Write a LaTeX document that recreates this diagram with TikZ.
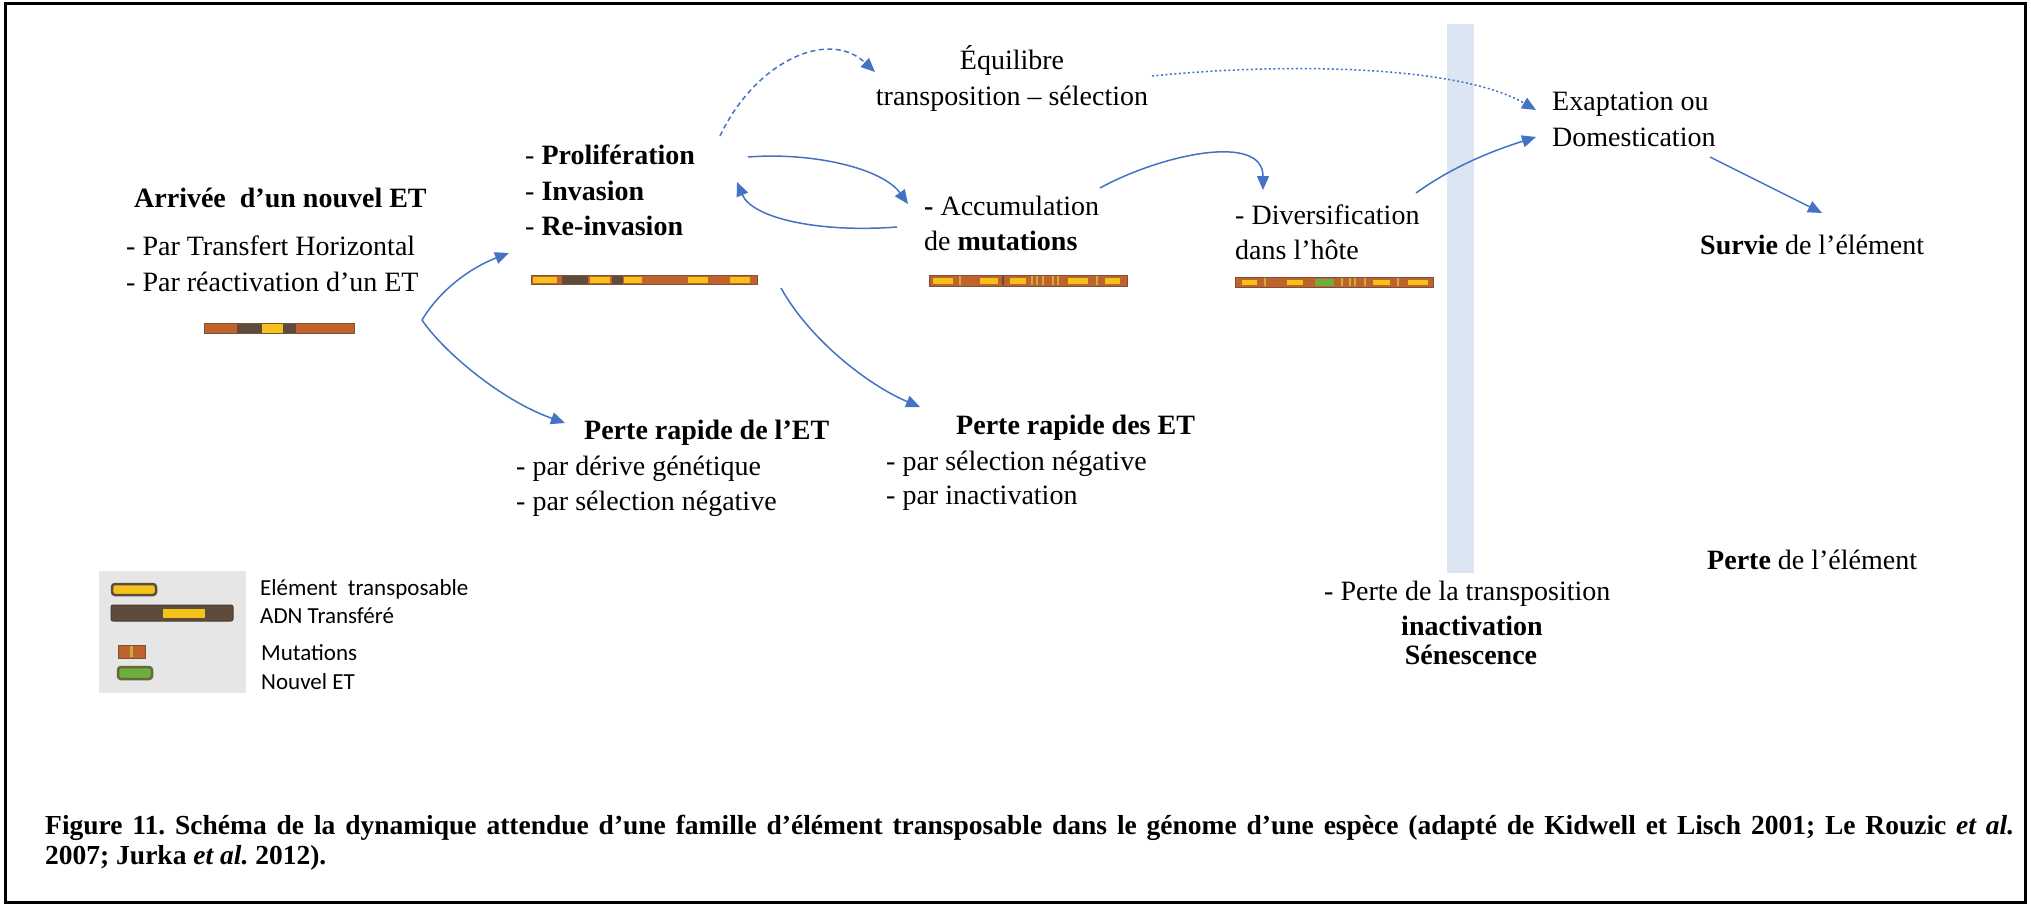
\documentclass[tikz,border=0pt]{standalone}
\usepackage{fontspec}
\setmainfont{Liberation Serif}
\newfontfamily\legendfont{Carlito}
\usetikzlibrary{arrows.meta}

\definecolor{arrowblue}{HTML}{4472C4}
\definecolor{tebrown}{HTML}{C0622B}
\definecolor{tedark}{HTML}{5E4B3C}
\definecolor{teyellow}{HTML}{F4C21B}
\definecolor{tegreen}{HTML}{6FAE3E}
\definecolor{testripe}{HTML}{C9AE3C}
\definecolor{bandblue}{HTML}{DCE6F2}
\definecolor{legendgrey}{HTML}{E7E6E6}

\tikzset{
  body/.style={font=\fontsize{28}{34}\selectfont, inner sep=0pt, anchor=base west},
  bodyc/.style={body, anchor=base},
  legtxt/.style={font=\legendfont\fontsize{23}{28}\selectfont, inner sep=0pt, anchor=base west},
  flow/.style={draw=arrowblue, line width=1.5pt, -{Triangle[length=14pt,width=12pt]}},
  flowdash/.style={flow, dash pattern=on 5pt off 3.5pt},
  flowdot/.style={flow, dash pattern=on 2pt off 2.5pt},
  barline/.style={draw=tedark!70!tebrown, line width=0.9pt},
}

% segments of a transposon bar: x offset, top, bottom, list of start/end/colour
\newcommand{\barsegs}[4]{%
  \foreach \a/\b/\c in {#4} {\fill[\c] (#1+\a,#2) rectangle (#1+\b,#3);}}

\begin{document}
\begin{tikzpicture}[x=1pt,y=-1pt]
\useasboundingbox (0,0) rectangle (2031,907);
\fill[white] (0,0) rectangle (2031,907);

% frame
\draw[line width=3pt] (5,4) rectangle (2025,902);

% vertical band
\fill[bandblue] (1447,24) rectangle (1474,573);

% ---- texts ----
\node[body, font=\bfseries\fontsize{28}{34}\selectfont] (arr) at (134,207) {Arrivée\ \ d’un nouvel ET};
\node[body] (arr1) at (126,255) {- Par Transfert Horizontal};
\node[body] (arr2) at (126,291) {- Par réactivation d’un ET};

\node[body] (pro1) at (525,164) {- \textbf{Prolifération}};
\node[body] (pro2) at (525,200) {- \textbf{Invasion}};
\node[body] (pro3) at (525,235) {- \textbf{Re-invasion}};

\node[bodyc] (equ1) at (1012,70) {Équilibre};
\node[bodyc] (equ2) at (1012,105) {transposition – sélection};

\node[body] (acc1) at (924,215) {\textbf{-} Accumulation};
\node[body] (acc2) at (924,250) {de \textbf{mutations}};

\node[body] (div1) at (1235,224) {- Diversification};
\node[body] (div2) at (1235,259) {dans l’hôte};

\node[body] (exa1) at (1552,110) {Exaptation ou};
\node[body] (exa2) at (1552,146) {Domestication};

\node[body] (sur) at (1700,254) {\textbf{Survie} de l’élément};

\node[body] (pr1) at (584,439) {\textbf{Perte rapide de l’ET}};
\node[body] (pr1a) at (516,475) {- par dérive génétique};
\node[body] (pr1b) at (516,510) {- par sélection négative};

\node[body] (pr2) at (956,434) {\textbf{Perte rapide des ET}};
\node[body] (pr2a) at (886,470) {- par sélection négative};
\node[body] (pr2b) at (886,504) {- par inactivation};

\node[body] (sen1) at (1324,600) {- Perte de la transposition};
\node[bodyc] (sen2) at (1472,635) {\textbf{inactivation}};
\node[bodyc] (sen3) at (1471,664) {\textbf{Sénescence}};

\node[body] (per) at (1707,569) {\textbf{Perte} de l’élément};

% ---- transposon bars ----
% bar 1
\fill[tebrown] (204,323) rectangle (354,333);
\barsegs{204}{323}{333}{33/58/tedark, 58/79/teyellow, 79/92/tedark}
\draw[barline] (204,323) rectangle (354,333);
% bar 2
\fill[tebrown] (531,275) rectangle (757,284);
\barsegs{531}{276.5}{282.5}{2/26/teyellow, 31/57/tedark, 59/79/teyellow, 81/92/tedark, 93/111/teyellow, 157/177/teyellow, 199/219/teyellow}
\barsegs{531}{275}{284}{31/57/tedark, 81/92/tedark}
\draw[barline] (531,275) rectangle (757,284);
% bar 3
\fill[tebrown] (929,275) rectangle (1127,286);
\barsegs{929}{277.5}{283.5}{4/24/teyellow, 51/69/teyellow, 81/97/teyellow, 139/159/teyellow, 176/191/teyellow}
\barsegs{929}{276}{285}{30/32/testripe, 73/75/tedark, 102/104/testripe, 107/109/testripe, 113/115/testripe, 123/125/testripe, 128/130/testripe, 167/169/testripe}
\draw[barline] (929,275) rectangle (1127,286);
% bar 4
\fill[tebrown] (1235,277) rectangle (1433,287);
\barsegs{1235}{279.5}{284.5}{7/22/teyellow, 52/68/teyellow, 138/155/teyellow, 173/193/teyellow}
\barsegs{1235}{278.5}{285.5}{80/99/tegreen}
\barsegs{1235}{278}{286}{29/31/testripe, 106/108/testripe, 114/116/testripe, 119/121/testripe, 129/131/testripe, 162/164/testripe}
\draw[barline] (1235,277) rectangle (1433,287);

% ---- legend ----
\fill[legendgrey] (99,571) rectangle (246,693);
\filldraw[fill=teyellow, draw=tedark, line width=2.5pt, rounded corners=3pt] (112,584) rectangle (156,595);
\filldraw[fill=tedark, draw=tedark!80!black, line width=1pt, rounded corners=2pt] (111,605) rectangle (233,621);
\fill[teyellow] (163,608.5) rectangle (205,617.5);
\fill[tebrown] (118,645) rectangle (145,658);
\fill[testripe] (130,646) rectangle (133,657);
\draw[barline] (118,645) rectangle (145,658);
\filldraw[fill=tegreen, draw=tedark!70!tegreen, line width=2.5pt, rounded corners=3pt] (118,667) rectangle (152,679);

\node[legtxt] (lg1) at (260,595) {Elément\ \ transposable};
\node[legtxt] (lg2) at (260,623) {ADN Transféré};
\node[legtxt] (lg3) at (261,660) {Mutations};
\node[legtxt] (lg4) at (261,689) {Nouvel ET};

% ---- connector end points ----
\coordinate (fork) at (422,320);
\coordinate (tipPro) at (509,253);
\coordinate (tipLoss1) at (565,423);
\coordinate (dashS) at (720,136);
\coordinate (dashE) at (875,72);
\coordinate (dotS) at (1152,76);
\coordinate (dotE) at (1536,110);
\coordinate (pa) at (748,157);
\coordinate (pb) at (908,204);
\coordinate (ba) at (897,227);
\coordinate (bb) at (737,182);
\coordinate (da) at (1100,188);
\coordinate (db) at (1263,190);
\coordinate (ea) at (1416,193);
\coordinate (eb) at (1536,137);
\coordinate (sa) at (1710,157);
\coordinate (sb) at (1822,213);
\coordinate (la) at (781,288);
\coordinate (lb) at (920,407);

% ---- connectors ----
\draw[flow] (fork) .. controls (440,290) and (470,268) .. (tipPro);
\draw[flow] (fork) .. controls (442,350) and (500,400) .. (tipLoss1);
\draw[flowdash] (dashS) .. controls (755,62) and (828,28) .. (dashE);
\draw[flowdot] (dotS) .. controls (1290,62) and (1460,66) .. (dotE);
\draw[flow] (pa) .. controls (812,152) and (882,168) .. (pb);
\draw[flow] (ba) .. controls (818,233) and (752,218) .. (bb);
\draw[flow] (da) .. controls (1160,155) and (1263,132) .. (db);
\draw[flow] (ea) .. controls (1455,165) and (1495,150) .. (eb);
\draw[flow] (sa) -- (sb);
\draw[flow] (la) .. controls (810,340) and (868,385) .. (lb);

% ---- caption ----
\node[anchor=north west, inner sep=0pt, align=left,
      font=\bfseries\fontsize{27.5}{32}\selectfont\frenchspacing] (cap) at (45,815)
  {\makebox[1969pt][s]{Figure 11. Schéma de la dynamique attendue d'une famille d’élément transposable dans le génome d'une espèce (adapté de Kidwell et Lisch 2001; Le Rouzic \textit{et al.}}\\[-2pt]
   2007; Jurka \textit{et al.} 2012).};

\end{tikzpicture}
\end{document}
